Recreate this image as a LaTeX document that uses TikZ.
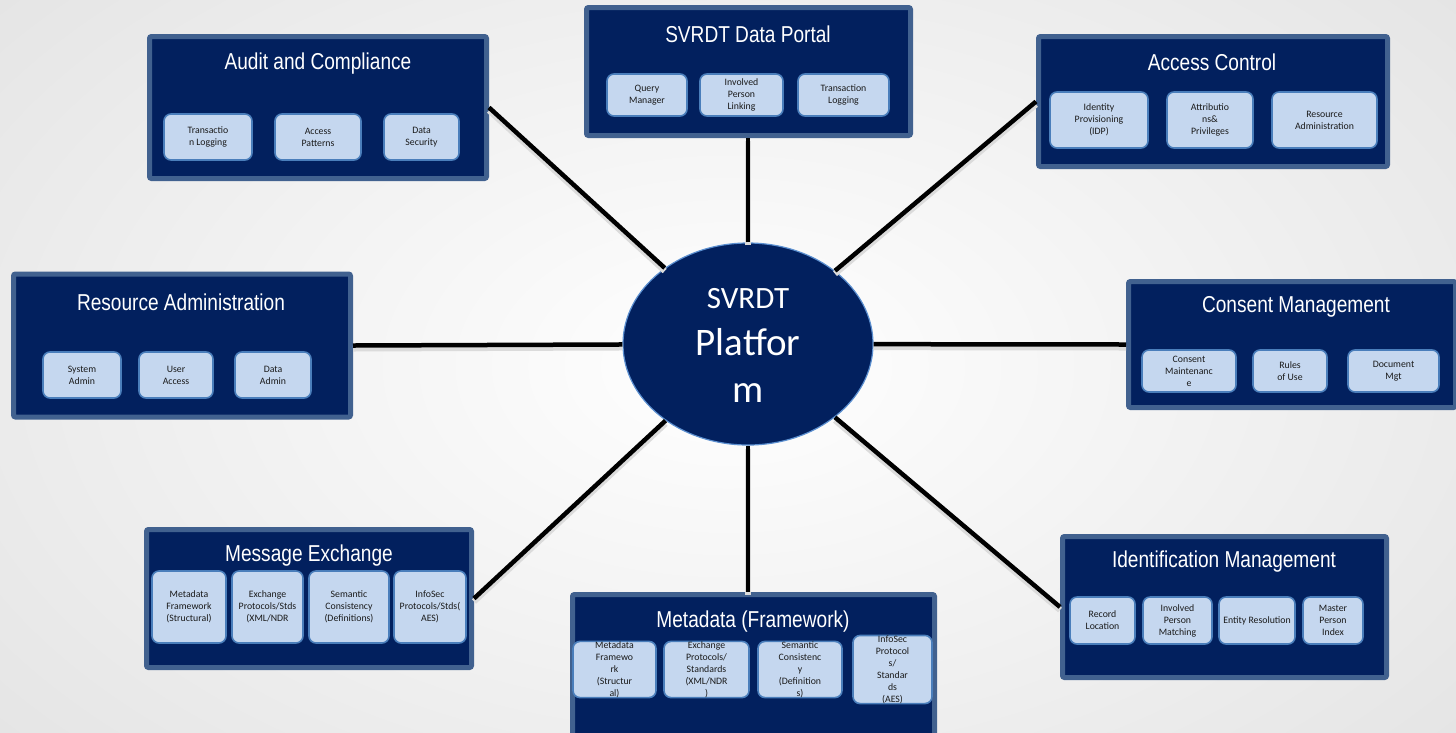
\documentclass[tikz,border=0pt]{standalone}
\usepackage{fontspec}
\newfontfamily\titlefont[FakeStretch=0.83]{Liberation Sans}
\newfontfamily\itemfont{Carlito}
\usetikzlibrary{shapes.geometric}
\definecolor{navy}{HTML}{02205E}
\definecolor{panelborder}{HTML}{41618F}
\definecolor{itemfill}{HTML}{C5D7EF}
\definecolor{itemborder}{HTML}{4A7EBB}
\definecolor{ellborder}{HTML}{5B8FD0}
\definecolor{itemtext}{HTML}{1A1A1A}
\begin{document}
\begin{tikzpicture}[x=1pt,y=-1pt,
  panel/.style 2 args={draw=panelborder, fill=navy, line width=5pt, rounded corners=2pt, inner sep=0pt, minimum width=#1, minimum height=#2},
  item/.style 2 args={draw=itemborder, fill=itemfill, line width=1.6pt, rounded corners=7pt, inner sep=0pt, align=center, text=itemtext, font={\itemfont\fontsize{9.8}{12}\selectfont}, minimum width=#1, minimum height=#2},
  ptitle/.style={text=white, inner sep=0pt, font={\titlefont\fontsize{23}{27}\selectfont}},
  link/.style={line width=4.5pt, black, preaction={draw=black!14, line width=6pt, transform canvas={yshift=-3pt}}}]
\useasboundingbox (0,0) rectangle (1456,732);
\clip (0,0) rectangle (1456,732);
\shade[inner color=white, outer color=black!10] (-200,-200) rectangle (1656,932);

% Central platform
\node[ellipse, draw=ellborder, fill=navy, line width=1.2pt, minimum width=250, minimum height=202, inner sep=0pt] (plat) at (748,344) {};

% Audit and Compliance
\node[panel={337}{142}] (audit) at (318,107.5) {};
\node[ptitle] (auditT) at (318,64) {Audit and Compliance};
\node[item={88}{46}] (audit1) at (208,137) {Transactio\\n Logging};
\node[item={86}{46}] (audit2) at (318,137) {Access\\Patterns};
\node[item={75}{46}] (audit3) at (421.5,137) {Data\\Security};

% SVRDT Data Portal
\node[panel={324}{128}] (portal) at (748.5,71.5) {};
\node[ptitle] (portalT) at (748,34) {SVRDT Data Portal};
\node[item={80}{42}] (portal1) at (647,95) {Query\\Manager};
\node[item={83}{42}] (portal2) at (741.5,95) {Involved\\Person\\Linking};
\node[item={91}{42}] (portal3) at (843.5,95) {Transaction\\Logging};

% Access Control
\node[panel={349}{130}] (access) at (1213,101.5) {};
\node[ptitle] (accessT) at (1212,62) {Access Control};
\node[item={98}{56}] (access1) at (1099,120) {Identity\\Provisioning\\(IDP)};
\node[item={86}{56}] (access2) at (1210,120) {Attributio\\ns\&\\Privileges};
\node[item={105}{56}] (access3) at (1324.5,120) {Resource\\Administration};

% Resource Administration
\node[panel={337}{143}] (resadm) at (182,345.5) {};
\node[ptitle] (resadmT) at (181,302) {Resource Administration};
\node[item={78}{46}] (resadm1) at (82,375) {System\\Admin};
\node[item={74}{46}] (resadm2) at (176,375) {User\\Access};
\node[item={76}{46}] (resadm3) at (273,375) {Data\\Admin};

% Consent Management
\node[panel={327}{126}] (consent) at (1292,344.5) {};
\node[ptitle] (consentT) at (1296,307) {Consent Management};
\node[item={94}{42}] (consent1) at (1189,371) {Consent\\Maintenanc\\e};
\node[item={74}{42}] (consent2) at (1290,371) {Rules\\of Use};
\node[item={91}{42}] (consent3) at (1393.5,371) {Document\\Mgt};

% Message Exchange
\node[panel={325}{138}] (msg) at (309,598.5) {};
\node[ptitle] (msgT) at (309,556) {Message Exchange};
\node[item={74}{72}] (msg1) at (189,607) {Metadata\\Framework\\(Structural)};
\node[item={71}{72}] (msg2) at (267.5,607) {Exchange\\Protocols/Stds\\(XML/NDR};
\node[item={80}{72}] (msg3) at (349,607) {Semantic\\Consistency\\(Definitions)};
\node[item={72}{72}] (msg4) at (430,607) {InfoSec\\Protocols/Stds(\\AES)};

% Metadata (Framework)
\node[panel={362}{148}] (meta) at (753.5,668.5) {};
\node[ptitle] (metaT) at (753,622) {Metadata (Framework)};
\node[item={83}{55}] (meta1) at (614.5,669.5) {Metadata\\Framewo\\rk\\(Structur\\al)};
\node[item={85}{55}] (meta2) at (706.5,669.5) {Exchange\\Protocols/\\Standards\\(XML/NDR\\)};
\node[item={84}{55}] (meta3) at (800,669.5) {Semantic\\Consistenc\\y\\(Definition\\s)};
\node[item={79}{55}] (meta4) at (892.5,669.5) {InfoSec\\Protocol\\s/\\Standar\\ds\\(AES)};

% Identification Management
\node[panel={324}{141}] (ident) at (1224.5,607) {};
\node[ptitle] (identT) at (1224,562) {Identification Management};
\node[item={65}{47}] (ident1) at (1102.5,620.5) {Record\\Location};
\node[item={69}{47}] (ident2) at (1177.5,620.5) {Involved\\Person\\Matching};
\node[item={76}{47}] (ident3) at (1257,620.5) {Entity Resolution};
\node[item={60}{47}] (ident4) at (1333,620.5) {Master\\Person\\Index};

% Connectors
\draw[link] (plat) -- (audit.east);
\draw[link] (plat) -- (portal.south -| plat.center);
\draw[link] (plat) -- (access.west);
\draw[link] (plat) -- (resadm.east);
\draw[link] (plat) -- (consent.west);
\draw[link] (plat) -- (msg.east);
\draw[link] (plat) -- (meta.north -| plat.center);
\draw[link] (plat) -- (ident.west);

% Platform label
\node[text=white, align=center, inner sep=0pt, font={\itemfont\fontsize{39}{47}\selectfont}] (platT) at (748,345) {{\fontsize{31}{47}\selectfont SVRDT}\\Platfor\\m};
\end{tikzpicture}
\end{document}
